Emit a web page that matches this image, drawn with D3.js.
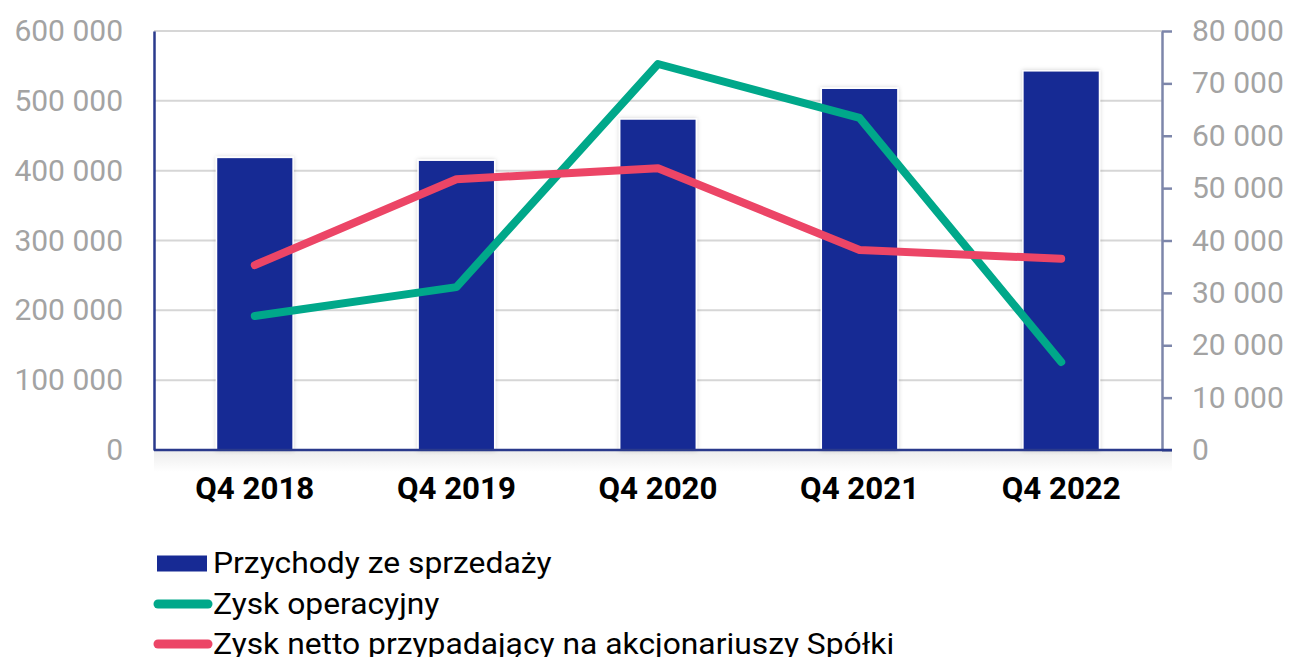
<!DOCTYPE html>
<html><head><meta charset="utf-8">
<script src="https://cdn.jsdelivr.net/npm/d3@7"></script>
<style>html,body{margin:0;padding:0;background:#fff;}svg{display:block;}</style>
</head><body>
<svg id="chart" width="1289" height="657"></svg>
<script>
const categories = ["Q4 2018","Q4 2019","Q4 2020","Q4 2021","Q4 2022"];
const revenue = [419000, 415000, 474000, 518000, 543000];
const operatingProfit = [25600, 31100, 73700, 63400, 16800];
const netProfit = [35300, 51700, 53800, 38200, 36500];
const leftTicks = [0,100000,200000,300000,400000,500000,600000];
const rightTicks = [0,10000,20000,30000,40000,50000,60000,70000,80000];
const seriesNames = ["Przychody ze sprzedaży","Zysk operacyjny","Zysk netto przypadający na akcjonariuszy Spółki"];
const colors = {bar:"#172a94", green:"#00a88a", red:"#ec4566"};

const svg = d3.select("#chart");
const m = {left:154, right:1162, top:31, bottom:450};
const x = d3.scaleBand().domain(categories).range([m.left, m.right]).paddingInner(0.62).paddingOuter(0.31);
const yL = d3.scaleLinear().domain([0,600000]).range([m.bottom, m.top]);
const yR = d3.scaleLinear().domain([0,80000]).range([m.bottom, m.top]);
const fmt = v => d3.format(",")(v).replace(/,/g, " ");

const defs = svg.append("defs");
const f = defs.append("filter").attr("id","sh").attr("x","-20%").attr("y","-5%").attr("width","140%").attr("height","110%");
f.append("feDropShadow").attr("dx",0).attr("dy",0).attr("stdDeviation",2).attr("flood-color","#000").attr("flood-opacity",0.18);
const g2 = defs.append("linearGradient").attr("id","under").attr("x1",0).attr("x2",0).attr("y1",0).attr("y2",1);
g2.append("stop").attr("offset","0%").attr("stop-color","#ececec");
g2.append("stop").attr("offset","100%").attr("stop-color","#ffffff");

// shadow band under plot
svg.append("rect").attr("x", m.left).attr("y", m.bottom).attr("width", m.right - m.left + 10).attr("height", 22).attr("fill","url(#under)");

// gridlines
svg.append("g").selectAll("line").data(leftTicks.filter(d=>d>0)).join("line")
  .attr("x1", m.left).attr("x2", m.right).attr("y1", d=>yL(d)).attr("y2", d=>yL(d))
  .attr("stroke","#d6d6d6").attr("stroke-width",2);

// bars
svg.append("g").selectAll("rect").data(revenue).join("rect")
  .attr("x",(d,i)=>x(categories[i])).attr("width",x.bandwidth())
  .attr("y",d=>yL(d)).attr("height",d=>yL(0)-yL(d))
  .attr("fill",colors.bar).attr("stroke","#fff").attr("stroke-width",1.5)
  .attr("filter","url(#sh)");

// left axis
const axL = svg.append("g").attr("transform",`translate(${m.left},0)`)
  .call(d3.axisLeft(yL).tickValues(leftTicks).tickFormat(fmt).tickSize(0).tickPadding(31));
axL.select(".domain").attr("stroke","#2a3a8c").attr("stroke-width",2.5);
axL.selectAll("text").attr("fill","#a3a3a3").style("font-family","Roboto").style("font-size","30px");

// right axis
const axR = svg.append("g").attr("transform",`translate(${m.right},0)`)
  .call(d3.axisRight(yR).tickValues(rightTicks).tickFormat(fmt).tickSize(10).tickSizeOuter(0).tickPadding(20));
axR.select(".domain").attr("stroke","#7d86aa").attr("stroke-width",2.5);
axR.selectAll(".tick line").attr("stroke","#7d86aa").attr("stroke-width",2.5);
axR.selectAll("text").attr("fill","#a3a3a3").style("font-family","Roboto").style("font-size","30px");

// bottom axis
const axB = svg.append("g").attr("transform",`translate(0,${m.bottom})`)
  .call(d3.axisBottom(x).tickSize(0).tickPadding(27));
axB.select(".domain").attr("d",`M${m.left},0H${m.right+10}`).attr("stroke","#2a3a8c").attr("stroke-width",2.5);
axB.selectAll("text").attr("fill","#000").style("font-family","Roboto").style("font-size","31px")
  .style("font-weight","bold").attr("textLength",119).attr("lengthAdjust","spacingAndGlyphs");

// lines
const cx = i => x(categories[i]) + x.bandwidth()/2;
const lineGen = d3.line().x((d,i)=>cx(i)).y(d=>yR(d));
[[operatingProfit,colors.green],[netProfit,colors.red]].forEach(([data,c])=>{
  svg.append("path").datum(data).attr("d",lineGen).attr("fill","none")
    .attr("stroke",c).attr("stroke-width",8).attr("stroke-linecap","round").attr("stroke-linejoin","round");
});

// legend
const lg = svg.append("g");
const rows = [563.5, 604, 644];
lg.append("rect").attr("x",157).attr("y",rows[0]-8).attr("width",50).attr("height",16).attr("fill",colors.bar);
lg.append("line").attr("x1",158).attr("x2",208).attr("y1",rows[1]).attr("y2",rows[1]).attr("stroke",colors.green).attr("stroke-width",9).attr("stroke-linecap","round");
lg.append("line").attr("x1",158).attr("x2",208).attr("y1",rows[2]).attr("y2",rows[2]).attr("stroke",colors.red).attr("stroke-width",9).attr("stroke-linecap","round");
lg.selectAll("text").data(seriesNames).join("text")
  .attr("x",213).attr("y",(d,i)=>rows[i]+9.5)
  .attr("fill","#000").style("font-family","Roboto").style("font-size","29px")
  .text(d=>d)
  .each(function(){ const w = this.getComputedTextLength(); d3.select(this).attr("textLength", w*1.097).attr("lengthAdjust","spacingAndGlyphs"); });
</script>
</body></html>
